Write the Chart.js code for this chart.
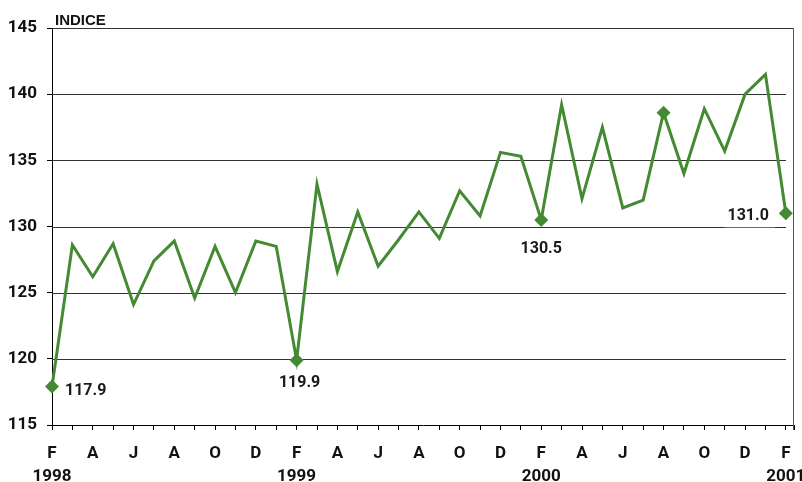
<!DOCTYPE html>
<html>
<head>
<meta charset="utf-8">
<script src="https://cdn.jsdelivr.net/npm/chart.js@4.4.1/dist/chart.umd.min.js"></script>
<style>
  html, body { margin: 0; padding: 0; background: #fff; }
</style>
</head>
<body>
<canvas id="chart" width="802" height="482"></canvas>
<script>
// mesi da feb 1998 a feb 2001
const monthLetters = ['F', '', 'A', '', 'J', '', 'A', '', 'O', '', 'D', '',
                      'F', '', 'A', '', 'J', '', 'A', '', 'O', '', 'D', '',
                      'F', '', 'A', '', 'J', '', 'A', '', 'O', '', 'D', '',
                      'F'];
const yearLabels = { 0: '1998', 12: '1999', 24: '2000', 36: '2001' };

const indice = [117.9, 128.6, 126.2, 128.7, 124.1, 127.4, 128.9, 124.6, 128.5, 125.0, 128.9, 128.5,
                119.9, 133.2, 126.6, 131.1, 127.0, 129.0, 131.1, 129.1, 132.7, 130.8, 135.6, 135.3,
                130.5, 139.2, 132.1, 137.5, 131.4, 132.0, 138.6, 134.0, 138.9, 135.7, 140.0, 141.5,
                131.0];

const markerIdx = [0, 12, 24, 30, 36];
const labelIdx = [0, 12, 24, 36];

const yTicks = [115, 120, 125, 130, 135, 140, 145];

const verde = '#448a33';
const fontNarrow = "Roboto, 'Liberation Sans', sans-serif";

// posizioni delle etichette rispetto al punto
const labelStyle = {
  0:  { dx: 13, dy: 4, align: 'left', box: false },
  12: { dx: 3, dy: 23, align: 'center', box: false },
  24: { dx: 0, dy: 29, align: 'center', box: false },
  36: { dx: -17, dy: 3, align: 'right', box: true }
};

const punti = indice.map((v, i) => ({ x: i, y: v }));

const extraDraw = {
  id: 'extraDraw',
  beforeDatasetsDraw(chart) {
    const { ctx, scales: { x, y }, chartArea } = chart;
    ctx.save();
    ctx.lineWidth = 1;
    ctx.strokeStyle = '#333';
    const x0 = chartArea.left;
    const x1 = Math.round(x.getPixelForValue(indice.length - 1));
    yTicks.forEach(v => {
      if (v === 115) return;
      const py = Math.round(y.getPixelForValue(v)) + 0.5;
      ctx.beginPath();
      ctx.moveTo(x0, py);
      ctx.lineTo(v === 145 ? chartArea.right : x1, py);
      ctx.stroke();
    });
    // bordo destro
    ctx.strokeStyle = '#555';
    const rx = Math.round(chartArea.right) - 0.5;
    ctx.beginPath();
    ctx.moveTo(rx, chartArea.top);
    ctx.lineTo(rx, chartArea.bottom + 5);
    ctx.stroke();
    ctx.restore();
  },
  afterDatasetsDraw(chart) {
    const { ctx, scales: { x, y } } = chart;
    ctx.save();
    ctx.font = 'bold 16px ' + fontNarrow;
    ctx.textBaseline = 'middle';
    labelIdx.forEach(i => {
      const s = labelStyle[i];
      const txt = indice[i].toFixed(1);
      const px = x.getPixelForValue(i) + s.dx;
      const py = y.getPixelForValue(indice[i]) + s.dy;
      ctx.textAlign = s.align;
      if (s.box) {
        const w = ctx.measureText(txt).width;
        ctx.fillStyle = '#fff';
        ctx.fillRect(px - w - 3, py - 11, w + 9, 22);
      }
      ctx.fillStyle = '#1a1a1a';
      ctx.fillText(txt, px, py);
    });
    // titolo asse
    ctx.font = 'bold 15px "Liberation Sans", Arial, sans-serif';
    ctx.textAlign = 'left';
    ctx.textBaseline = 'alphabetic';
    ctx.fillStyle = '#111';
    ctx.fillText('INDICE', 55, 25);
    ctx.restore();
  }
};

new Chart(document.getElementById('chart'), {
  type: 'line',
  data: {
    datasets: [{
      label: 'Indice',
      data: punti,
      borderColor: verde,
      backgroundColor: verde,
      borderWidth: 3,
      tension: 0,
      pointStyle: 'rectRot',
      pointRadius: indice.map((v, i) => markerIdx.includes(i) ? 7 : 0),
      pointHoverRadius: 0,
      pointBorderWidth: 0,
      pointBackgroundColor: verde,
      clip: false
    }]
  },
  options: {
    responsive: false,
    animation: false,
    events: [],
    layout: { padding: { left: 0, top: 28, right: 8, bottom: 0 } },
    plugins: { legend: { display: false }, tooltip: { enabled: false } },
    scales: {
      x: {
        type: 'linear',
        min: 0,
        max: 36.4,
        afterBuildTicks: (scale) => {
          const t = monthLetters.map((m, i) => ({ value: i }));
          t.push({ value: 36.4 });
          scale.ticks = t;
        },
        afterFit: (scale) => {
          scale.height = 57;
          scale.paddingLeft = 0;
          scale.paddingRight = 0;
        },
        border: { display: true, color: '#000', width: 1 },
        grid: { drawOnChartArea: false, drawTicks: true, tickLength: 5, color: '#000' },
        ticks: {
          autoSkip: false,
          maxRotation: 0,
          minRotation: 0,
          padding: 12,
          color: '#111',
          font: { family: fontNarrow, size: 17, weight: 'bold', lineHeight: 1.35 },
          callback: (value) => {
            if (!Number.isInteger(value) || value >= monthLetters.length) return '';
            const yr = yearLabels[value];
            return yr ? [monthLetters[value], yr] : monthLetters[value];
          }
        }
      },
      y: {
        min: 115,
        max: 145,
        afterBuildTicks: (scale) => { scale.ticks = yTicks.map(v => ({ value: v })); },
        afterFit: (scale) => { scale.width = 52; },
        border: { display: true, color: '#000', width: 1 },
        grid: { drawOnChartArea: false, drawTicks: true, tickLength: 5, color: '#000' },
        ticks: {
          padding: 10,
          color: '#111',
          font: { family: fontNarrow, size: 17, weight: 'bold' }
        }
      }
    }
  },
  plugins: [extraDraw]
});
</script>
</body>
</html>
